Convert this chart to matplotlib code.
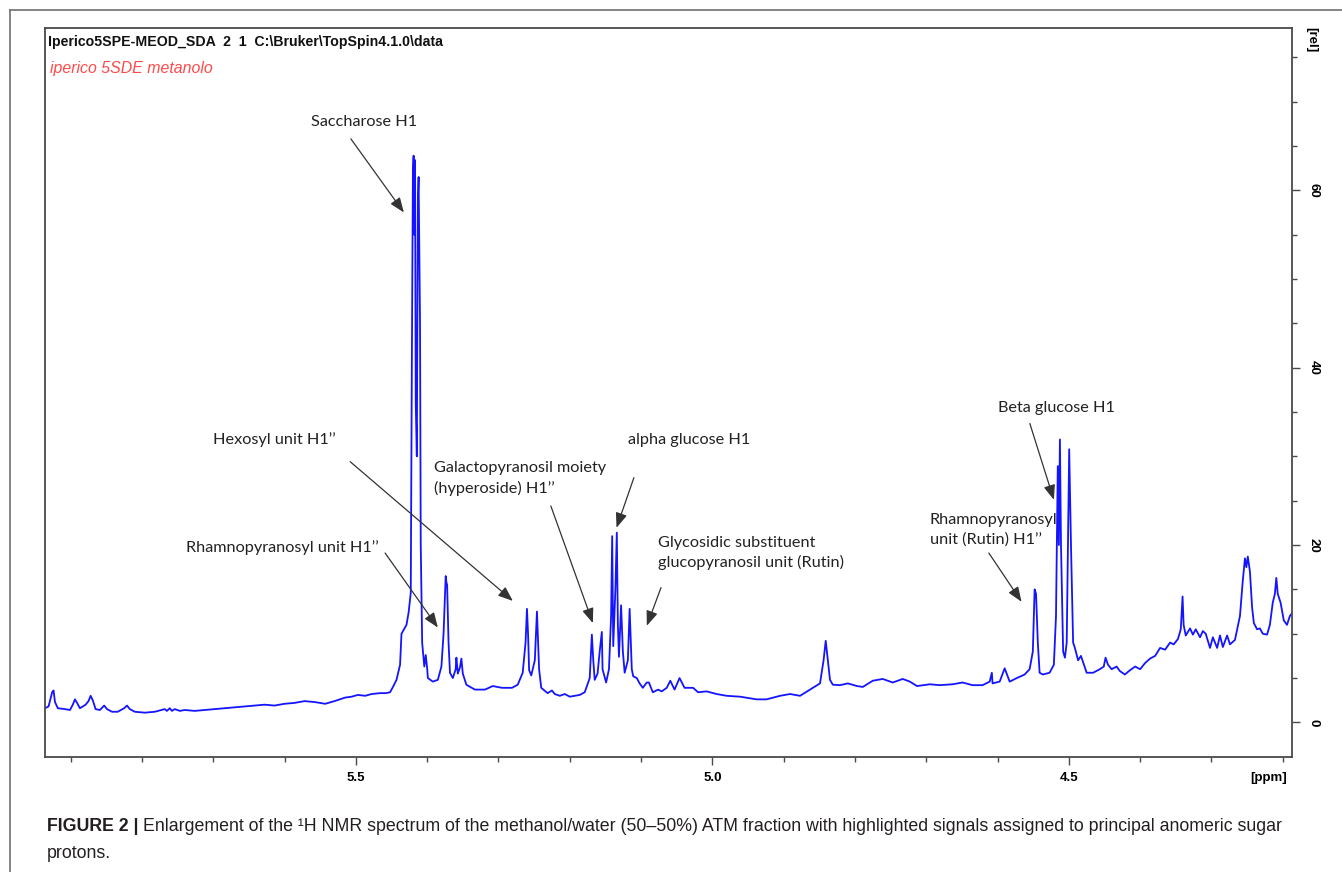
import matplotlib
matplotlib.use("Agg")
import matplotlib.pyplot as plt
from matplotlib.ticker import MultipleLocator, FixedLocator
from matplotlib.lines import Line2D

# ---------------- data ----------------
ppm = [5.936, 5.931, 5.926, 5.924, 5.922, 5.918, 5.908, 5.901, 5.897, 5.894, 5.891, 5.887,
       5.883, 5.879, 5.875, 5.872, 5.869, 5.865, 5.859, 5.853, 5.849, 5.842, 5.834, 5.825,
       5.821, 5.817, 5.810, 5.796, 5.782, 5.768, 5.765, 5.761, 5.758, 5.754, 5.747, 5.740,
       5.726, 5.712, 5.698, 5.684, 5.670, 5.656, 5.642, 5.628, 5.614, 5.600, 5.586, 5.572,
       5.558, 5.543, 5.530, 5.515, 5.506, 5.497, 5.487, 5.478, 5.466, 5.458, 5.452, 5.448,
       5.443, 5.438, 5.436, 5.429, 5.426, 5.423, 5.4215, 5.420, 5.419, 5.418, 5.417, 5.416,
       5.4145, 5.413, 5.412, 5.410, 5.409, 5.407, 5.404, 5.402, 5.400, 5.399, 5.392, 5.385,
       5.380, 5.377, 5.374, 5.373, 5.372, 5.370, 5.368, 5.364, 5.360, 5.359, 5.357, 5.354,
       5.352, 5.350, 5.345, 5.333, 5.319, 5.308, 5.295, 5.281, 5.273, 5.266, 5.262, 5.260,
       5.2585, 5.257, 5.254, 5.249, 5.246, 5.243, 5.240, 5.231, 5.225, 5.221, 5.214, 5.207,
       5.200, 5.193, 5.186, 5.179, 5.172, 5.169, 5.167, 5.165, 5.161, 5.158, 5.155, 5.154,
       5.149, 5.145, 5.142, 5.1405, 5.139, 5.136, 5.134, 5.1325, 5.131, 5.128, 5.1255, 5.123,
       5.1185, 5.116, 5.113, 5.111, 5.106, 5.102, 5.0975, 5.092, 5.089, 5.0835, 5.076, 5.071,
       5.064, 5.059, 5.053, 5.046, 5.039, 5.027, 5.020, 5.008, 4.994, 4.980, 4.961, 4.938,
       4.924, 4.905, 4.891, 4.877, 4.863, 4.849, 4.844, 4.841, 4.838, 4.835, 4.831, 4.821,
       4.810, 4.797, 4.789, 4.775, 4.761, 4.747, 4.733, 4.723, 4.713, 4.695, 4.681, 4.663,
       4.649, 4.635, 4.621, 4.611, 4.608, 4.607, 4.597, 4.590, 4.583, 4.573, 4.562, 4.555,
       4.5505, 4.548, 4.546, 4.5435, 4.541, 4.5365, 4.527, 4.521, 4.518, 4.5155, 4.514, 4.5125,
       4.511, 4.508, 4.5055, 4.503, 4.5005, 4.4995, 4.497, 4.494, 4.4915, 4.487, 4.483, 4.475,
       4.466, 4.4565, 4.451, 4.4485, 4.445, 4.440, 4.433, 4.4285, 4.4215, 4.414, 4.407, 4.400,
       4.393, 4.386, 4.379, 4.372, 4.365, 4.358, 4.353, 4.347, 4.343, 4.3405, 4.339, 4.336,
       4.330, 4.326, 4.322, 4.316, 4.312, 4.308, 4.302, 4.298, 4.292, 4.288, 4.284, 4.278,
       4.274, 4.267, 4.260, 4.256, 4.253, 4.251, 4.249, 4.246, 4.243, 4.2405, 4.236, 4.232,
       4.228, 4.222, 4.218, 4.214, 4.211, 4.209, 4.207, 4.203, 4.1985, 4.194, 4.190, 4.187]

intensity = [1.6, 1.8, 3.4, 3.6, 2.3, 1.6, 1.5, 1.4, 2.0, 2.6, 2.2, 1.6,
             1.8, 2.0, 2.4, 3.0, 2.5, 1.5, 1.4, 1.9, 1.5, 1.2, 1.2, 1.6,
             1.9, 1.5, 1.2, 1.1, 1.2, 1.5, 1.3, 1.6, 1.3, 1.5, 1.3, 1.4,
             1.3, 1.4, 1.5, 1.6, 1.7, 1.8, 1.9, 2.0, 1.9, 2.1, 2.2, 2.4,
             2.3, 2.1, 2.4, 2.8, 2.9, 3.1, 3.0, 3.2, 3.3, 3.3, 3.4, 4.0,
             4.8, 6.5, 10.0, 11.0, 12.4, 14.6, 40.0, 62.0, 63.9, 55.0, 63.4, 36.0,
             30.0, 58.9, 61.5, 45.0, 20.0, 9.0, 6.3, 7.6, 6.1, 5.0, 4.6, 4.8,
             6.3, 10.0, 16.5, 15.8, 15.5, 9.0, 5.6, 5.0, 6.0, 7.3, 5.5, 6.2,
             7.2, 5.5, 4.25, 3.7, 3.7, 4.1, 3.9, 3.9, 4.25, 5.6, 9.0, 12.8,
             10.0, 5.9, 5.3, 7.0, 12.5, 6.0, 3.9, 3.3, 3.6, 3.2, 3.0, 3.2,
             2.9, 3.0, 3.1, 3.4, 5.0, 9.9, 7.0, 4.8, 5.5, 8.0, 10.2, 6.0,
             4.5, 6.0, 12.0, 21.0, 8.6, 15.0, 21.4, 11.0, 7.4, 13.2, 8.0, 5.6,
             7.0, 12.8, 6.0, 5.2, 5.0, 4.4, 3.9, 4.5, 4.5, 3.4, 3.7, 3.5,
             3.9, 4.7, 3.7, 5.0, 3.9, 3.9, 3.4, 3.5, 3.2, 3.0, 2.9, 2.6,
             2.6, 3.0, 3.2, 3.0, 3.7, 4.4, 7.0, 9.2, 7.0, 4.8, 4.25, 4.2,
             4.4, 4.1, 4.0, 4.7, 4.9, 4.5, 4.9, 4.6, 4.1, 4.3, 4.2, 4.3,
             4.5, 4.2, 4.2, 4.6, 5.6, 4.4, 4.6, 6.1, 4.6, 5.0, 5.4, 6.0,
             8.0, 15.0, 14.5, 9.0, 5.6, 5.4, 5.6, 6.5, 12.0, 28.9, 20.0, 31.9,
             20.0, 8.0, 7.3, 9.0, 25.0, 30.8, 20.0, 9.0, 8.4, 7.0, 7.5, 5.6,
             5.6, 6.0, 6.3, 7.3, 6.5, 6.0, 6.3, 5.8, 5.4, 5.9, 6.3, 6.0,
             6.7, 7.2, 7.5, 8.4, 8.2, 9.0, 8.8, 9.4, 10.5, 14.2, 11.0, 9.8,
             10.6, 9.9, 10.5, 9.6, 10.3, 10.0, 8.4, 9.6, 8.4, 9.8, 8.5, 9.8,
             8.8, 9.3, 12.0, 16.0, 18.5, 17.5, 18.7, 17.0, 13.0, 11.2, 10.5, 10.6,
             10.0, 9.9, 11.0, 13.5, 14.5, 16.3, 14.5, 13.5, 11.5, 11.0, 12.0, 12.3]

x_major = [5.5, 5.0, 4.5]
x_major_labels = ["5.5", "5.0", "4.5"]
y_major = [0, 20, 40, 60]
y_major_labels = ["0", "20", "40", "60"]

# annotations: label, text anchor (ppm, value), arrow start, arrow tip
ann_labels = ["Saccharose H1",
              "Hexosyl unit H1\u2019\u2019",
              "Rhamnopyranosyl unit H1\u2019\u2019",
              "Galactopyranosil moiety\n(hyperoside) H1\u2019\u2019",
              "alpha glucose H1",
              "Glycosidic substituent\nglucopyranosil unit (Rutin)",
              "Beta glucose H1",
              "Rhamnopyranosyl\nunit (Rutin) H1\u2019\u2019"]
ann_text_xy = [(5.489, 67.7), (5.700, 31.9), (5.738, 19.7), (5.391, 27.5),
               (5.1185, 31.8), (5.0764, 19.1), (4.5996, 35.4), (4.6949, 21.7)]
ann_text_ha = ["center", "left", "left", "left", "left", "left", "left", "left"]
ann_start = [(5.507, 65.8), (5.508, 29.4), (5.459, 19.1), (5.2265, 24.4),
             (5.110, 27.6), (5.072, 15.2), (4.5547, 33.7), (4.6122, 19.1)]
ann_tip = [(5.4327, 57.5), (5.2798, 13.7), (5.385, 10.7), (5.1676, 11.2),
           (5.1344, 21.95), (5.0919, 10.9), (4.521, 25.1), (4.5663, 13.6)]

header = "Iperico5SPE-MEOD_SDA  2  1  C:\\Bruker\\TopSpin4.1.0\\data"
subtitle = "iperico 5SDE metanolo"
caption_bold = "FIGURE 2 | "
caption_1 = ("Enlargement of the \u00b9H NMR spectrum of the methanol/water (50\u201350%) ATM fraction "
             "with highlighted signals assigned to principal anomeric sugar")
caption_2 = "protons."

# ---------------- figure ----------------
W, H = 1342, 872
fig = plt.figure(figsize=(W / 100, H / 100), dpi=100)
fig.patch.set_facecolor("white")

# outer gray frame (top and left)
fig.add_artist(Line2D([10 / W, 1.0], [1 - 10 / H, 1 - 10 / H], transform=fig.transFigure,
                      color="#7a7a7a", lw=1.3))
fig.add_artist(Line2D([10 / W, 10 / W], [0.0, 1 - 10 / H], transform=fig.transFigure,
                      color="#7a7a7a", lw=1.3))

L, R, T, B = 45, 1292, 28, 757
ax = fig.add_axes([L / W, 1 - B / H, (R - L) / W, (B - T) / H])
ax.plot(ppm, intensity, color="#1414ff", lw=1.3)
ax.set_xlim(5.936, 4.187)
ax.set_ylim(-3.9, 78.3)

for s in ax.spines.values():
    s.set_color("#4a4a4a")
    s.set_linewidth(1.3)

ax.xaxis.set_major_locator(FixedLocator(x_major))
ax.set_xticklabels(x_major_labels)
ax.xaxis.set_minor_locator(MultipleLocator(0.1))
ax.yaxis.tick_right()
ax.yaxis.set_major_locator(FixedLocator(y_major))
ax.set_yticklabels(y_major_labels)
ax.yaxis.set_minor_locator(MultipleLocator(5))
ax.tick_params(axis="both", which="major", direction="out", length=6, width=1.0,
               color="#4a4a4a", labelsize=9.5, pad=5)
ax.tick_params(axis="both", which="minor", direction="out", length=3.8, width=1.0,
               color="#4a4a4a")
for lab in ax.get_xticklabels() + ax.get_yticklabels():
    lab.set_fontweight("bold")
    lab.set_family("Liberation Sans")
for lab in ax.get_yticklabels():
    lab.set_rotation(-90)
    lab.set_va("center")

fig.text(1311 / W, 1 - 40 / H, "[rel]", rotation=-90, ha="center", va="center",
         fontsize=9.5, fontweight="bold", family="Liberation Sans")
fig.text(1269 / W, 1 - 778 / H, "[ppm]", ha="center", va="center",
         fontsize=9.5, fontweight="bold", family="Liberation Sans")

# header texts
fig.text(48 / W, 1 - 42 / H, header, ha="left", va="center", fontsize=10.2,
         fontweight="bold", family="Liberation Sans", color="#111111")
fig.text(50 / W, 1 - 69 / H, subtitle, ha="left", va="center", fontsize=11.4,
         style="italic", family="Liberation Sans", color="#ff4a4a")

# annotations
for lab, txy, ha, st, tp in zip(ann_labels, ann_text_xy, ann_text_ha, ann_start, ann_tip):
    ax.text(txy[0], txy[1], lab, ha=ha, va="center", fontsize=11.7, family="Lato",
            color="#222222", linespacing=1.42)
    ax.annotate("", xy=tp, xytext=st,
                arrowprops=dict(arrowstyle="-|>,head_length=0.9,head_width=0.35",
                                color="#333333", lw=0.9, shrinkA=0, shrinkB=0))

# caption
fig.canvas.draw()
r = fig.canvas.get_renderer()
tb = fig.text(47 / W, 1 - 826 / H, caption_bold, ha="left", va="center", fontsize=12.8,
              fontweight="bold", family="Liberation Sans", color="#231f20")
ext = tb.get_window_extent(renderer=r)
fig.text(ext.x1 / W, 1 - 826 / H, caption_1, ha="left", va="center", fontsize=12.8,
         family="Liberation Sans", color="#231f20")
fig.text(47 / W, 1 - 853 / H, caption_2, ha="left", va="center", fontsize=12.8,
         family="Liberation Sans", color="#231f20")

fig.savefig("out.png", dpi=100)
